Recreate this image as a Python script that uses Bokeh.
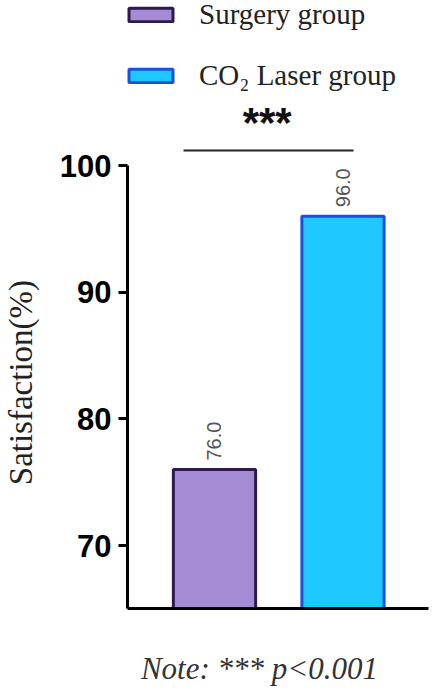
from math import pi
from bokeh.plotting import figure
from bokeh.layouts import gridplot
from bokeh.models import (Range1d, LinearAxis, FixedTicker, Legend,
                          LegendItem, ColumnDataSource)
from bokeh.core.properties import value
from bokeh.embed import file_html
from bokeh.resources import INLINE

groups = ["Surgery group", "CO\u2082 Laser group"]
satisfaction = [76.0, 96.0]
value_labels = ["76.0", "96.0"]
y_ticks = [70, 80, 90, 100]
fill_colors = ["#a58ad4", "#1ec8ff"]
line_colors = ["#2b1b4d", "#1b4fe0"]
significance = "***"
note_text = "Note:   *** p<0.001"
y_title = "Satisfaction(%)"

xs = [i + 1 for i in range(len(groups))]

# geometry (pixels)
W = 432
LAB_W = 45                      # column holding the rotated y title
LEFT, RIGHT = 82, 4             # main borders (after the title column)
BOTB = 16
FRAME_H = 608
H_MAIN = FRAME_H + BOTB
H_FOOT = 690 - H_MAIN
MAIN_W = W - LAB_W
X0, X1 = 0.323, 2.6654
Y0, Y_AX, Y1 = 65.03, 100.0, 113.03

def clean(fig):
    fig.xgrid.visible = False
    fig.ygrid.visible = False
    fig.outline_line_color = None
    return fig

common = dict(output_backend="svg", toolbar_location=None,
              x_axis_location=None, y_axis_location=None)

# ---------------- main chart ----------------
p = clean(figure(width=MAIN_W, height=H_MAIN,
                 x_range=Range1d(X0, X1), y_range=Range1d(Y0, Y1),
                 min_border_left=LEFT, min_border_right=RIGHT,
                 min_border_top=0, min_border_bottom=BOTB, **common))

yaxis = LinearAxis(ticker=FixedTicker(ticks=y_ticks), bounds=(Y0, Y_AX))
yaxis.axis_line_width = 3
yaxis.axis_line_color = "black"
yaxis.major_tick_line_width = 3
yaxis.major_tick_out = 9
yaxis.major_tick_in = 0
yaxis.minor_tick_line_color = None
yaxis.major_label_text_font = "Liberation Sans"
yaxis.major_label_text_font_style = "bold"
yaxis.major_label_text_font_size = "31px"
yaxis.major_label_text_color = "black"
yaxis.major_label_standoff = 7
p.add_layout(yaxis, "left")

xaxis = LinearAxis(ticker=FixedTicker(ticks=[]))
xaxis.axis_line_width = 3
xaxis.axis_line_color = "black"
xaxis.major_tick_line_color = None
xaxis.minor_tick_line_color = None
xaxis.major_tick_out = 0
xaxis.minor_tick_out = 0
xaxis.major_label_standoff = 0
xaxis.major_label_text_font_size = "0px"
p.add_layout(xaxis, "below")

items = []
for i, g in enumerate(groups):
    src = ColumnDataSource(dict(x=[xs[i]], top=[satisfaction[i]]))
    r = p.vbar(x="x", top="top", bottom=0, width=0.64, source=src,
               fill_color=fill_colors[i], line_color=line_colors[i],
               line_width=3)
    items.append(LegendItem(label=g, renderers=[r]))

p.text(x=xs, y=satisfaction, text=value_labels, angle=pi / 2,
       text_align="left", text_baseline="middle", y_offset=-9,
       text_font=value("Liberation Sans"), text_font_size="20px",
       text_color="#555555")

# significance bracket
top_val = max(satisfaction)
p.segment(x0=[xs[0] - 0.241], x1=[xs[1] + 0.082],
          y0=[top_val + 5.18], y1=[top_val + 5.18],
          line_color="#222222", line_width=2)
p.text(x=[(xs[0] + xs[1]) / 2 - 0.09], y=[top_val + 7.43],
       text=[significance], text_align="center", text_baseline="middle",
       text_font=value("Liberation Sans"), text_font_style="bold",
       text_font_size="42px", text_color="#111111")

legend = Legend(items=items, location=(-4, FRAME_H - 92),
                orientation="vertical",
                glyph_width=55, glyph_height=17, label_standoff=21,
                label_text_font="Liberation Serif", label_text_font_size="29px",
                label_text_color="#222222", spacing=28, padding=1, margin=0,
                border_line_color=None, background_fill_alpha=0)
p.add_layout(legend, "center")

# ---------------- y title column ----------------
lab = clean(figure(width=LAB_W, height=H_MAIN,
                   x_range=Range1d(0, LAB_W), y_range=p.y_range,
                   min_border_left=0, min_border_right=0,
                   min_border_top=0, min_border_bottom=BOTB, **common))
lab.text(x=[20], y=[(Y0 + Y_AX) / 2 + 0.35], text=[y_title], angle=pi / 2,
         text_align="center", text_baseline="middle",
         text_font=value("Liberation Serif"), text_font_size="33px",
         text_color="#222222")

# ---------------- footer (note) ----------------
f = clean(figure(width=MAIN_W, height=H_FOOT,
                 x_range=p.x_range, y_range=Range1d(0, H_FOOT),
                 min_border_left=0, min_border_right=0,
                 min_border_top=0, min_border_bottom=0, **common))
f.text(x=[(xs[0] + xs[1]) / 2 - 0.09], y=[22], text=[note_text],
       text_align="center", text_baseline="alphabetic",
       text_font=value("Liberation Serif"), text_font_style="italic",
       text_font_size="31px", text_color="#333333")

grid = gridplot([[lab, p], [None, f]], toolbar_location=None)
open("out.html", "w").write(file_html(grid, INLINE))
